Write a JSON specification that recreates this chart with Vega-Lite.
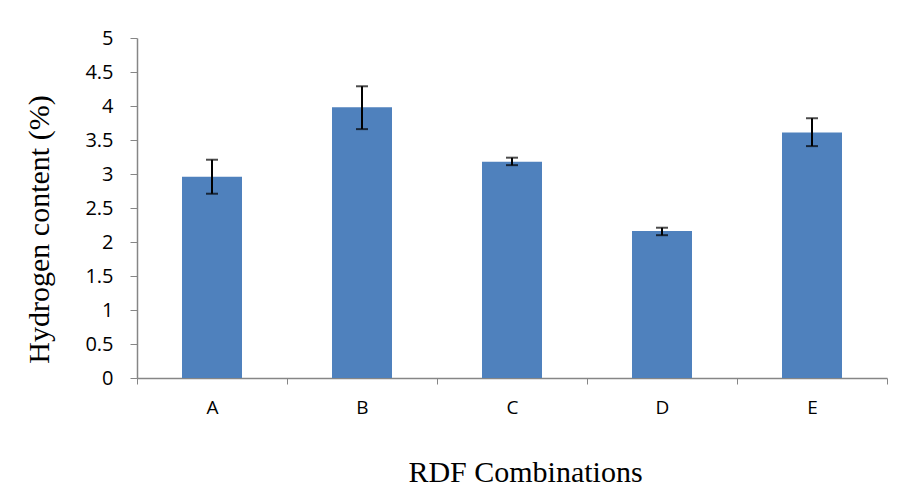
{
  "$schema": "https://vega.github.io/schema/vega-lite/v6.json",
  "width": 750,
  "height": 340,
  "autosize": "none",
  "padding": {"left": 137, "top": 38, "right": 14, "bottom": 118},
  "background": "white",
  "config": {"view": {"stroke": null}},
  "data": {"values": [
    {"combo": "A", "h": 2.96, "lo": 2.71, "hi": 3.21},
    {"combo": "B", "h": 3.98, "lo": 3.66, "hi": 4.29},
    {"combo": "C", "h": 3.18, "lo": 3.13, "hi": 3.24},
    {"combo": "D", "h": 2.16, "lo": 2.1, "hi": 2.21},
    {"combo": "E", "h": 3.61, "lo": 3.41, "hi": 3.82}
  ]},
  "encoding": {
    "x": {"field": "combo", "type": "nominal", "sort": null,
      "scale": {"paddingInner": 0, "paddingOuter": 0},
      "axis": {"title": "RDF Combinations", "labelAngle": 0, "tickBand": "extent",
        "domainColor": "#868686", "tickColor": "#868686", "tickSize": 6, "domainWidth": 1.5,
        "labelFont": "Open Sans", "labelFontSize": 19, "labelColor": "#000", "labelPadding": 14,
        "titleFont": "Liberation Serif", "titleFontSize": 30, "titleFontWeight": "normal",
        "titleColor": "#000", "titlePadding": 40, "titleX": 388}}
  },
  "layer": [
    {"mark": {"type": "bar", "width": {"band": 0.4}, "color": "#4F81BD"},
      "encoding": {"y": {"field": "h", "type": "quantitative",
        "scale": {"domain": [0, 5], "nice": false},
        "axis": {"title": "Hydrogen content (%)", "values": [0, 0.5, 1, 1.5, 2, 2.5, 3, 3.5, 4, 4.5, 5], "format": "~g",
          "grid": false, "domainColor": "#868686", "tickColor": "#868686", "tickSize": 7, "domainWidth": 1.5,
          "labelFont": "Open Sans", "labelFontSize": 20, "labelColor": "#000", "labelPadding": 17, "labelOverlap": false,
          "titleFont": "Liberation Serif", "titleFontSize": 30, "titleFontWeight": "normal",
          "titleColor": "#000", "titlePadding": 30, "titleY": 191}}}},
    {"mark": {"type": "rule", "color": "#000", "strokeWidth": 2},
      "encoding": {"y": {"field": "lo", "type": "quantitative",
        "axis": {"title": "Hydrogen content (%)", "values": [0, 0.5, 1, 1.5, 2, 2.5, 3, 3.5, 4, 4.5, 5], "format": "~g",
          "grid": false, "domainColor": "#868686", "tickColor": "#868686", "tickSize": 7, "domainWidth": 1.5,
          "labelFont": "Open Sans", "labelFontSize": 20, "labelColor": "#000", "labelPadding": 17, "labelOverlap": false,
          "titleFont": "Liberation Serif", "titleFontSize": 30, "titleFontWeight": "normal",
          "titleColor": "#000", "titlePadding": 30, "titleY": 191}},
        "y2": {"field": "hi"}}},
    {"mark": {"type": "tick", "color": "#000", "size": 12, "thickness": 2},
      "encoding": {"y": {"field": "lo", "type": "quantitative",
        "axis": {"title": "Hydrogen content (%)", "values": [0, 0.5, 1, 1.5, 2, 2.5, 3, 3.5, 4, 4.5, 5], "format": "~g",
          "grid": false, "domainColor": "#868686", "tickColor": "#868686", "tickSize": 7, "domainWidth": 1.5,
          "labelFont": "Open Sans", "labelFontSize": 20, "labelColor": "#000", "labelPadding": 17, "labelOverlap": false,
          "titleFont": "Liberation Serif", "titleFontSize": 30, "titleFontWeight": "normal",
          "titleColor": "#000", "titlePadding": 30, "titleY": 191}}}},
    {"mark": {"type": "tick", "color": "#000", "size": 12, "thickness": 2},
      "encoding": {"y": {"field": "hi", "type": "quantitative",
        "axis": {"title": "Hydrogen content (%)", "values": [0, 0.5, 1, 1.5, 2, 2.5, 3, 3.5, 4, 4.5, 5], "format": "~g",
          "grid": false, "domainColor": "#868686", "tickColor": "#868686", "tickSize": 7, "domainWidth": 1.5,
          "labelFont": "Open Sans", "labelFontSize": 20, "labelColor": "#000", "labelPadding": 17, "labelOverlap": false,
          "titleFont": "Liberation Serif", "titleFontSize": 30, "titleFontWeight": "normal",
          "titleColor": "#000", "titlePadding": 30, "titleY": 191}}}}
  ]
}
